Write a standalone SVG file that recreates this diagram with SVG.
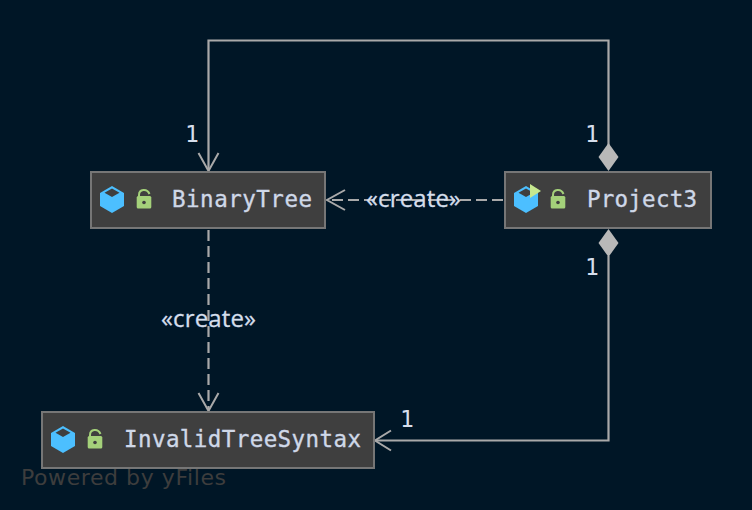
<svg xmlns="http://www.w3.org/2000/svg" width="752" height="510" viewBox="0 0 752 510">
<style>
.bg{fill:#001626}
.box{fill:#3f3f3f;stroke:#767676;stroke-width:2}
.name{font-family:"DejaVu Sans Mono",monospace;font-size:22.5px;fill:#cfd8e8;stroke:#cfd8e8;stroke-width:.35}
.lab{font-family:"DejaVu Sans Mono",monospace;font-size:23px;fill:#d5deec}
.st{font-family:"Open Sans",sans-serif;font-size:24px;fill:#d5deec;stroke:#d5deec;stroke-width:.3}
.edge{fill:none;stroke:#a9a9a9;stroke-width:2.200}
.dash{stroke-dasharray:11 5}
.open{fill:none;stroke:#a9a9a9;stroke-width:2}
.dia{fill:#b8b8b8}
.hex{fill:#4cbfff}
.top{fill:#3f3f3f}
.lock{fill:#a4d17a}
.sh{fill:none;stroke:#a4d17a;stroke-width:2}
.wm{font-family:"DejaVu Sans",sans-serif;font-size:22px;fill:#3d3d3d}
</style>
<defs>
<g id="cube"><path class="hex" d="M0-13 12-6V7L0 14-12 7V-6Z"/><path class="top" d="M0-10.500 7.500-6.200 0-2-7.500-6.200Z"/></g>
<g id="padlock"><path class="sh" d="M-5-2V-4C-5-10 3-11 5.500-5"/><rect class="lock" x="-7.300" y="-3" width="14.600" height="12.500" rx="1.500"/><circle cx="0" cy="3.500" r="1.800" fill="#3f3f3f"/></g>
</defs>
<rect class="bg" width="752" height="510"/>
<text class="wm" x="21" y="485" textLength="205">Powered by yFiles</text>
<g id="connectors">
<path class="edge" d="M608.500 145V40.500H208.500V170"/>
<path class="open" d="M198.500 153 208.500 171 218.500 153"/>
<path class="dia" d="M608.500 143 618.500 157 608.500 171 598.500 157Z"/>
<path class="edge dash" d="M503 200H328"/>
<path class="open" d="M345 190 327 200 345 210"/>
<path class="edge dash" d="M208.500 230V409"/>
<path class="open" d="M198.500 393 208.500 411 218.500 393"/>
<path class="edge" d="M608.500 256V440.500H376"/>
<path class="dia" d="M608.500 229 618.500 243 608.500 257 598.500 243Z"/>
<path class="open" d="M391 430.500 375 440.500 391 450.500"/>
</g>
<g id="BinaryTree">
<rect class="box" x="91" y="172" width="234" height="56"/>
<use href="#cube" x="112" y="199"/><use href="#padlock" x="144" y="199"/>
<text class="name" x="172" y="207" textLength="140">BinaryTree</text>
</g>
<g id="Project3">
<rect class="box" x="505" y="172" width="206" height="56"/>
<use href="#cube" x="526" y="199"/>
<path fill="#c6e88f" d="M530 184 541 191 530 198Z"/>
<use href="#padlock" x="558" y="199"/>
<text class="name" x="587" y="207" textLength="110">Project3</text>
</g>
<g id="InvalidTreeSyntax">
<rect class="box" x="42" y="412" width="332" height="56"/>
<use href="#cube" x="63" y="439"/><use href="#padlock" x="95" y="439"/>
<text class="name" x="124" y="447" textLength="237">InvalidTreeSyntax</text>
</g>
<g id="labels">
<text class="lab" x="185" y="142">1</text>
<text class="lab" x="585" y="142">1</text>
<text class="lab" x="585" y="275">1</text>
<text class="lab" x="400" y="427">1</text>
<text class="st" x="366" y="207" textLength="95">«create»</text>
<text class="st" x="161" y="327" textLength="95">«create»</text>
</g>
</svg>
